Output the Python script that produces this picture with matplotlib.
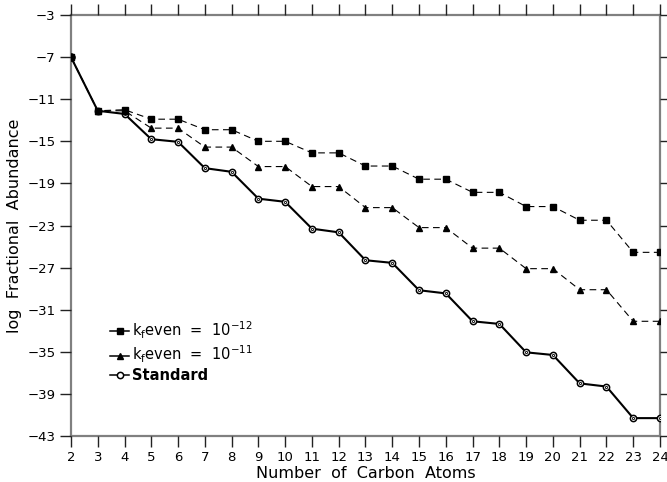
import matplotlib
matplotlib.use("Agg")
import matplotlib.pyplot as plt
import numpy as np

# carbon number and log fractional abundance
carbon = list(range(2, 25))
kf_12 = [-7.0, -12.1, -12.0, -12.9, -12.9, -13.9, -13.9, -15.0, -15.0, -16.1, -16.1,
         -17.35, -17.35, -18.6, -18.6, -19.85, -19.85, -21.2, -21.2, -22.5, -22.5, -25.55, -25.55]
kf_11 = [-7.0, -12.1, -12.1, -13.75, -13.75, -15.55, -15.55, -17.4, -17.4, -19.3, -19.3,
         -21.3, -21.3, -23.2, -23.2, -25.15, -25.15, -27.1, -27.1, -29.1, -29.1, -32.1, -32.1]
standard = [-7.0, -12.1, -12.4, -14.8, -15.05, -17.55, -17.9, -20.45, -20.75, -23.3, -23.65,
            -26.3, -26.55, -29.15, -29.45, -32.1, -32.35, -35.05, -35.3, -38.0, -38.3, -41.3, -41.3]

y_ticks = list(range(-43, -2, 4))

fig = plt.figure(figsize=(6.67, 4.82), dpi=100)
ax = fig.add_axes([0.1064, 0.0954, 0.8831, 0.8735])

ax.plot(carbon, standard, color='black', lw=1.5, marker='o', ms=4.5,
        mfc='white', mec='black', mew=1.1, label='Standard', zorder=2)
ax.plot(carbon, standard, ls='none', marker='o', ms=1.6, mfc='white', mec='black',
        mew=0.6, zorder=2)
ax.plot(carbon, kf_11, color='black', lw=0.8, ls=(0, (6, 4)), marker='^', ms=5,
        label=r'k$_\mathregular{f}$even  =  10$^{-11}$', zorder=3)
ax.plot(carbon, kf_12, color='black', lw=0.8, ls=(0, (6, 4)), marker='s', ms=4.3,
        label=r'k$_\mathregular{f}$even  =  10$^{-12}$', zorder=4)
# first point drawn filled in the reference
ax.plot(carbon[0], standard[0], ls='none', marker='o', ms=5, color='black', zorder=5)

ax.set_xlim(2, 24)
ax.set_ylim(-43, -3)
ax.set_xticks(carbon)
ax.set_yticks(y_ticks)
ax.set_xticklabels([str(c) for c in carbon])
ax.set_yticklabels([f'\u2212{abs(v)}' for v in y_ticks])

for s in ax.spines.values():
    s.set_color('#808080')
    s.set_linewidth(1.6)
    s.set_zorder(0)
ax.tick_params(direction='out', length=8, width=1.0, color='#222222',
               labelsize=9.5, top=True, right=True, pad=3)
ax.tick_params(axis='both', which='both', labeltop=False, labelright=False)

ax.set_xlabel('Number  of  Carbon  Atoms', fontsize=11.5, labelpad=1)
ax.set_ylabel('log  Fractional  Abundance', fontsize=11.5, labelpad=4)

handles, labels = ax.get_legend_handles_labels()
order = [2, 1, 0]
leg = ax.legend([handles[i] for i in order], [labels[i] for i in order],
                loc='lower left', bbox_to_anchor=(0.054, 0.108), frameon=False,
                handlelength=1.3, handletextpad=0.2, labelspacing=0.2, fontsize=10.5,
                borderpad=0)
for h in leg.get_lines():
    h.set_linestyle('-')
    h.set_linewidth(1.1)
leg.get_texts()[2].set_fontweight('bold')

fig.savefig('out.png', dpi=100)
